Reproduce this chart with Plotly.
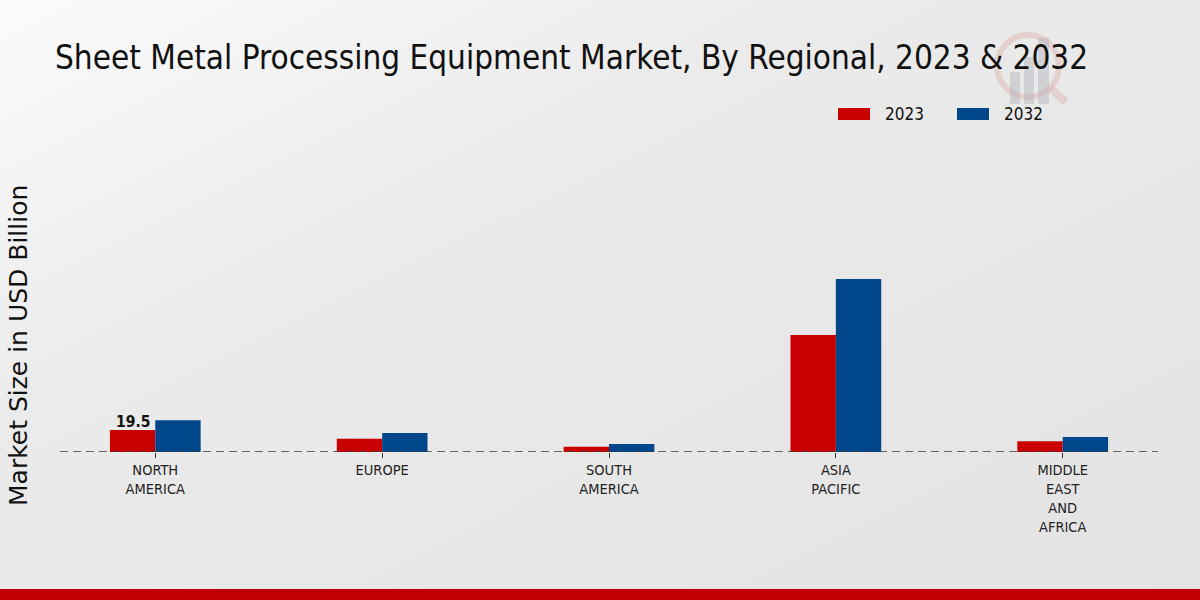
import plotly.graph_objects as go
import base64

categories = ["NORTH<br>AMERICA", "EUROPE", "SOUTH<br>AMERICA", "ASIA<br>PACIFIC", "MIDDLE<br>EAST<br>AND<br>AFRICA"]
values_2023 = [19.5, 11.8, 4.7, 103.8, 9.5]
values_2032 = [28.1, 16.8, 7.1, 153.4, 13.4]
label_value = "19.5"
series_names = ["2023", "2032"]
colors = ["#c80000", "#00468b"]

W, H = 1200, 600
L, R, T, B = 60, 42, 100, 148
plot_h = H - T - B
COND = "DejaVu Sans Condensed, DejaVu Sans"

svg = f'''<svg xmlns="http://www.w3.org/2000/svg" width="{W}" height="{H}">
<defs><linearGradient id="g" x1="0" y1="0" x2="1" y2="1">
<stop offset="0" stop-color="#fbfbfb"/><stop offset="0.35" stop-color="#ebebeb"/><stop offset="1" stop-color="#e3e3e3"/>
</linearGradient></defs><rect width="{W}" height="{H}" fill="url(#g)"/></svg>'''
bg_uri = "data:image/svg+xml;base64," + base64.b64encode(svg.encode()).decode()

xs = list(range(len(categories)))
fig = go.Figure()
fig.add_trace(go.Bar(x=xs, y=values_2023, name=series_names[0], marker_color=colors[0], marker_line_width=0))
fig.add_trace(go.Bar(x=xs, y=values_2032, name=series_names[1], marker_color=colors[1], marker_line_width=0))

def py(p):
    return (H - B - p) / plot_h

def px(p):
    return (p - L) / (W - L - R)

wm_red = "rgba(215,120,120,0.22)"
wm_grey = "rgba(160,165,175,0.35)"
shapes = [
    dict(type="line", xref="paper", yref="y", x0=0, x1=1, y0=0, y1=0,
         line=dict(color="#3a3a3a", width=1.4, dash="8px,5px"), layer="above"),
    dict(type="rect", xref="paper", yref="paper", x0=px(0), x1=px(W), y0=py(600), y1=py(589),
         fillcolor="#c00000", line_width=0, layer="below"),
    dict(type="rect", xref="paper", yref="paper", x0=px(838), x1=px(870), y0=py(120), y1=py(108),
         fillcolor=colors[0], line_width=0),
    dict(type="rect", xref="paper", yref="paper", x0=px(957), x1=px(989), y0=py(120), y1=py(108),
         fillcolor=colors[1], line_width=0),
    dict(type="circle", xref="paper", yref="paper", x0=px(997), x1=px(1059), y0=py(97), y1=py(35),
         line=dict(color=wm_red, width=6), fillcolor="rgba(0,0,0,0)", layer="below"),
    dict(type="line", xref="paper", yref="paper", x0=px(1050), x1=px(1066), y0=py(88), y1=py(102),
         line=dict(color=wm_red, width=8), layer="below"),
    dict(type="rect", xref="paper", yref="paper", x0=px(1010), x1=px(1020), y0=py(104), y1=py(72),
         fillcolor=wm_grey, line_width=0, layer="below"),
    dict(type="rect", xref="paper", yref="paper", x0=px(1024), x1=px(1034), y0=py(104), y1=py(57),
         fillcolor=wm_grey, line_width=0, layer="below"),
    dict(type="rect", xref="paper", yref="paper", x0=px(1038), x1=px(1049), y0=py(104), y1=py(38),
         fillcolor=wm_grey, line_width=0, layer="below"),
]

annotations = [
    dict(xref="paper", yref="paper", x=px(883), y=py(114), text=series_names[0], showarrow=False,
         xanchor="left", yanchor="middle", font=dict(family=COND, size=17, color="#111111")),
    dict(xref="paper", yref="paper", x=px(1002), y=py(114), text=series_names[1], showarrow=False,
         xanchor="left", yanchor="middle", font=dict(family=COND, size=17, color="#111111")),
    dict(x=-0.1, y=values_2023[0], xref="x", yref="y", text="<b>" + label_value + "</b>", showarrow=False,
         xanchor="center", yanchor="bottom", yshift=-3,
         font=dict(family=COND, size=15.5, color="#111111")),
    dict(xref="paper", yref="paper", x=px(18), y=py(346), text="Market Size in USD Billion", showarrow=False,
         textangle=-90, xanchor="center", yanchor="middle",
         font=dict(family="DejaVu Sans", size=25, color="#111111")),
]

fig.update_layout(
    width=W, height=H,
    margin=dict(l=L, r=R, t=T, b=B, autoexpand=False),
    paper_bgcolor="#e8e8e8", plot_bgcolor="rgba(0,0,0,0)",
    images=[dict(source=bg_uri, xref="paper", yref="paper", x=px(0), y=py(0),
                 sizex=W / (W - L - R), sizey=H / plot_h,
                 xanchor="left", yanchor="top", sizing="stretch", layer="below")],
    title=dict(text="Sheet Metal Processing Equipment Market, By Regional, 2023 & 2032",
               xref="container", yref="container", x=55 / W, y=1 - 57 / H,
               xanchor="left", yanchor="middle",
               font=dict(family=COND, size=33, color="#111111")),
    barmode="group", bargap=0.6, bargroupgap=0,
    showlegend=False,
    xaxis=dict(range=[-0.42, 4.42], tickmode="array", tickvals=xs, ticktext=categories,
               showgrid=False, zeroline=False, showline=False,
               ticks="outside", ticklen=5, tickcolor="#333333", tickwidth=1,
               tickfont=dict(family=COND, size=14.5, color="#222222")),
    yaxis=dict(range=[0, 312], showticklabels=False, showgrid=False, zeroline=False, showline=False),
    shapes=shapes, annotations=annotations,
)

fig.write_html("out.html")
